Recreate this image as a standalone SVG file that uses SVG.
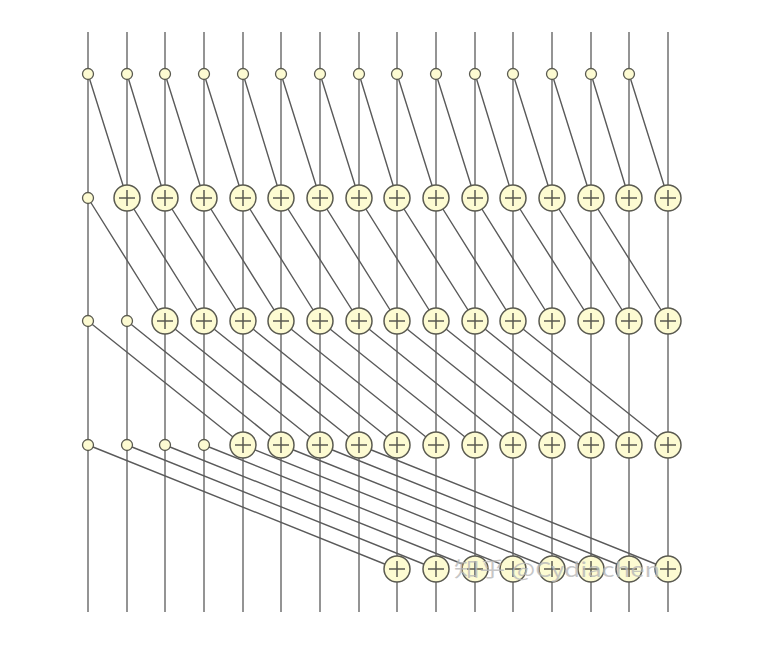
<svg xmlns="http://www.w3.org/2000/svg" xmlns:xlink="http://www.w3.org/1999/xlink" width="762" height="646" viewBox="0 0 762 646">
<style>
.w{stroke:#7a7a7a;stroke-width:1.6;fill:none}
.d{stroke:#5a5a5a;stroke-width:1.4;fill:none}
.s{fill:#fdfbd2;stroke:#5a5a50;stroke-width:1.3}
.p{fill:#fdfbd2;stroke:#5a5a50;stroke-width:1.5}
.pl{stroke:#5a5a50;stroke-width:1.5}
.wm{font-family:"Noto Sans CJK SC","Liberation Sans",sans-serif;font-size:20px;fill:#b8b8b8;opacity:0.8}
</style>
<defs>
<g id="dot"><circle class="s" r="5.5"/></g>
<g id="add"><circle class="p" r="13"/><path class="pl" d="M-8 0H8M0 -8V8"/></g>
</defs>
<rect width="762" height="646" fill="#fff"/>
<g id="connectors">
<path class="w" d="M88 32V612M127 32V612M165 32V612M204 32V612M243 32V612M281 32V612M320 32V612M359 32V612M397 32V612M436 32V612M475 32V612M513 32V612M552 32V612M591 32V612M629 32V612M668 32V612"/>
<path class="d" d="M88 74L127 198M127 74L165 198M165 74L204 198M204 74L243 198M243 74L281 198M281 74L320 198M320 74L359 198M359 74L397 198M397 74L436 198M436 74L475 198M475 74L513 198M513 74L552 198M552 74L591 198M591 74L629 198M629 74L668 198"/>
<path class="d" d="M88 198L165 321M127 198L204 321M165 198L243 321M204 198L281 321M243 198L320 321M281 198L359 321M320 198L397 321M359 198L436 321M397 198L475 321M436 198L513 321M475 198L552 321M513 198L591 321M552 198L629 321M591 198L668 321"/>
<path class="d" d="M88 321L243 445M127 321L281 445M165 321L320 445M204 321L359 445M243 321L397 445M281 321L436 445M320 321L475 445M359 321L513 445M397 321L552 445M436 321L591 445M475 321L629 445M513 321L668 445"/>
<path class="d" d="M88 445L397 569M127 445L436 569M165 445L475 569M204 445L513 569M243 445L552 569M281 445L591 569M320 445L629 569M359 445L668 569"/>
</g>
<g id="r0c0"><use xlink:href="#dot" x="88" y="74"/></g>
<g id="r0c1"><use xlink:href="#dot" x="127" y="74"/></g>
<g id="r0c2"><use xlink:href="#dot" x="165" y="74"/></g>
<g id="r0c3"><use xlink:href="#dot" x="204" y="74"/></g>
<g id="r0c4"><use xlink:href="#dot" x="243" y="74"/></g>
<g id="r0c5"><use xlink:href="#dot" x="281" y="74"/></g>
<g id="r0c6"><use xlink:href="#dot" x="320" y="74"/></g>
<g id="r0c7"><use xlink:href="#dot" x="359" y="74"/></g>
<g id="r0c8"><use xlink:href="#dot" x="397" y="74"/></g>
<g id="r0c9"><use xlink:href="#dot" x="436" y="74"/></g>
<g id="r0c10"><use xlink:href="#dot" x="475" y="74"/></g>
<g id="r0c11"><use xlink:href="#dot" x="513" y="74"/></g>
<g id="r0c12"><use xlink:href="#dot" x="552" y="74"/></g>
<g id="r0c13"><use xlink:href="#dot" x="591" y="74"/></g>
<g id="r0c14"><use xlink:href="#dot" x="629" y="74"/></g>
<g id="r1c0"><use xlink:href="#dot" x="88" y="198"/></g>
<g id="r1c1"><use xlink:href="#add" x="127" y="198"/></g>
<g id="r1c2"><use xlink:href="#add" x="165" y="198"/></g>
<g id="r1c3"><use xlink:href="#add" x="204" y="198"/></g>
<g id="r1c4"><use xlink:href="#add" x="243" y="198"/></g>
<g id="r1c5"><use xlink:href="#add" x="281" y="198"/></g>
<g id="r1c6"><use xlink:href="#add" x="320" y="198"/></g>
<g id="r1c7"><use xlink:href="#add" x="359" y="198"/></g>
<g id="r1c8"><use xlink:href="#add" x="397" y="198"/></g>
<g id="r1c9"><use xlink:href="#add" x="436" y="198"/></g>
<g id="r1c10"><use xlink:href="#add" x="475" y="198"/></g>
<g id="r1c11"><use xlink:href="#add" x="513" y="198"/></g>
<g id="r1c12"><use xlink:href="#add" x="552" y="198"/></g>
<g id="r1c13"><use xlink:href="#add" x="591" y="198"/></g>
<g id="r1c14"><use xlink:href="#add" x="629" y="198"/></g>
<g id="r1c15"><use xlink:href="#add" x="668" y="198"/></g>
<g id="r2c0"><use xlink:href="#dot" x="88" y="321"/></g>
<g id="r2c1"><use xlink:href="#dot" x="127" y="321"/></g>
<g id="r2c2"><use xlink:href="#add" x="165" y="321"/></g>
<g id="r2c3"><use xlink:href="#add" x="204" y="321"/></g>
<g id="r2c4"><use xlink:href="#add" x="243" y="321"/></g>
<g id="r2c5"><use xlink:href="#add" x="281" y="321"/></g>
<g id="r2c6"><use xlink:href="#add" x="320" y="321"/></g>
<g id="r2c7"><use xlink:href="#add" x="359" y="321"/></g>
<g id="r2c8"><use xlink:href="#add" x="397" y="321"/></g>
<g id="r2c9"><use xlink:href="#add" x="436" y="321"/></g>
<g id="r2c10"><use xlink:href="#add" x="475" y="321"/></g>
<g id="r2c11"><use xlink:href="#add" x="513" y="321"/></g>
<g id="r2c12"><use xlink:href="#add" x="552" y="321"/></g>
<g id="r2c13"><use xlink:href="#add" x="591" y="321"/></g>
<g id="r2c14"><use xlink:href="#add" x="629" y="321"/></g>
<g id="r2c15"><use xlink:href="#add" x="668" y="321"/></g>
<g id="r3c0"><use xlink:href="#dot" x="88" y="445"/></g>
<g id="r3c1"><use xlink:href="#dot" x="127" y="445"/></g>
<g id="r3c2"><use xlink:href="#dot" x="165" y="445"/></g>
<g id="r3c3"><use xlink:href="#dot" x="204" y="445"/></g>
<g id="r3c4"><use xlink:href="#add" x="243" y="445"/></g>
<g id="r3c5"><use xlink:href="#add" x="281" y="445"/></g>
<g id="r3c6"><use xlink:href="#add" x="320" y="445"/></g>
<g id="r3c7"><use xlink:href="#add" x="359" y="445"/></g>
<g id="r3c8"><use xlink:href="#add" x="397" y="445"/></g>
<g id="r3c9"><use xlink:href="#add" x="436" y="445"/></g>
<g id="r3c10"><use xlink:href="#add" x="475" y="445"/></g>
<g id="r3c11"><use xlink:href="#add" x="513" y="445"/></g>
<g id="r3c12"><use xlink:href="#add" x="552" y="445"/></g>
<g id="r3c13"><use xlink:href="#add" x="591" y="445"/></g>
<g id="r3c14"><use xlink:href="#add" x="629" y="445"/></g>
<g id="r3c15"><use xlink:href="#add" x="668" y="445"/></g>
<g id="r4c8"><use xlink:href="#add" x="397" y="569"/></g>
<g id="r4c9"><use xlink:href="#add" x="436" y="569"/></g>
<g id="r4c10"><use xlink:href="#add" x="475" y="569"/></g>
<g id="r4c11"><use xlink:href="#add" x="513" y="569"/></g>
<g id="r4c12"><use xlink:href="#add" x="552" y="569"/></g>
<g id="r4c13"><use xlink:href="#add" x="591" y="569"/></g>
<g id="r4c14"><use xlink:href="#add" x="629" y="569"/></g>
<g id="r4c15"><use xlink:href="#add" x="668" y="569"/></g>
<text class="wm" x="454" y="577" textLength="206" lengthAdjust="spacingAndGlyphs">知乎 @Cydiachen</text>
</svg>
